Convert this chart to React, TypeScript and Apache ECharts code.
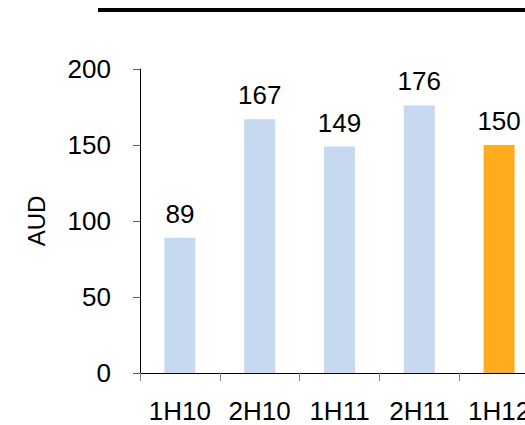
import React, { useEffect, useRef } from "react";
import * as echarts from "echarts";

// Half-year periods and their values (AUD)
const periods = ["1H10", "2H10", "1H11", "2H11", "1H12"];
const values = [89, 167, 149, 176, 150];
const highlightIndex = 4;

const yTicks = { min: 0, max: 200, interval: 50 };

const baseColor = "#C6D9F1";
const highlightColor = "#FFAD1F";
const font = "Liberation Sans, Arial, sans-serif";

// The plot runs a little past the visible frame on the right.
const chartWidth = 539;

export default function App() {
  const ref = useRef<HTMLDivElement>(null);

  useEffect(() => {
    if (!ref.current) return;
    const chart = echarts.init(ref.current, undefined, { renderer: "svg" });
    chart.setOption({
      animation: false,
      backgroundColor: "#ffffff",
      textStyle: { fontFamily: font },
      graphic: [
        {
          type: "rect",
          shape: { x: 98, y: 8, width: 440, height: 4 },
          style: { fill: "#000000" },
        },
      ],
      grid: { left: 140, top: 69, bottom: 52, right: 0, containLabel: false },
      xAxis: {
        type: "category",
        data: periods,
        axisLine: { show: true, lineStyle: { color: "#000000", width: 1 } },
        axisTick: { show: true, length: 8, lineStyle: { color: "#7f7f7f", width: 1 } },
        axisLabel: {
          color: "#000000",
          fontSize: 26,
          fontFamily: font,
          margin: 25,
          interval: 0,
        },
      },
      yAxis: {
        type: "value",
        min: yTicks.min,
        max: yTicks.max,
        interval: yTicks.interval,
        name: "AUD",
        nameLocation: "middle",
        nameGap: 92,
        nameTextStyle: { color: "#000000", fontSize: 24, fontFamily: font },
        axisLine: { show: true, lineStyle: { color: "#000000", width: 1 } },
        axisTick: { show: true, length: 7, lineStyle: { color: "#5f5f5f", width: 1 } },
        splitLine: { show: false },
        axisLabel: {
          color: "#000000",
          fontSize: 26,
          fontFamily: font,
          margin: 29,
        },
      },
      series: [
        {
          type: "bar",
          barWidth: 31,
          data: values.map((v, i) => ({
            value: v,
            itemStyle: { color: i === highlightIndex ? highlightColor : baseColor },
          })),
          label: {
            show: true,
            position: "top",
            distance: 11,
            color: "#000000",
            fontSize: 26,
            fontFamily: font,
          },
        },
      ],
    });
    return () => chart.dispose();
  }, []);

  return (
    <div
      style={{
        position: "fixed",
        left: 0,
        top: 0,
        width: 525,
        height: 425,
        overflow: "hidden",
        background: "#ffffff",
      }}
    >
      <div ref={ref} style={{ width: chartWidth, height: 425 }} />
    </div>
  );
}
